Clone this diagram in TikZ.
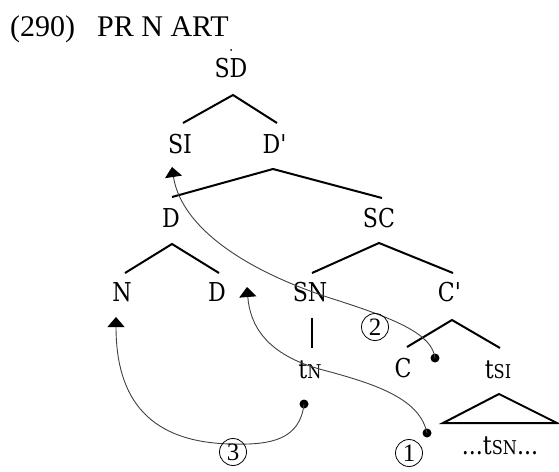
\documentclass[tikz,border=0pt]{standalone}
\usepackage{fontspec}
\setmainfont{DejaVu Serif}[FakeStretch=0.85]
\newfontfamily\titlefont{Liberation Serif}
\usetikzlibrary{arrows.meta}
\newcommand{\smc}[1]{{\fontsize{19}{19}\selectfont #1}}
\begin{document}
\begin{tikzpicture}[x=1pt,y=-1pt,
  lab/.style={font=\fontsize{26}{26}\selectfont, inner sep=0pt, anchor=base},
  ttl/.style={font=\titlefont\fontsize{30}{30}\selectfont, inner sep=0pt, anchor=base west},
  circ/.style={draw, circle, line width=0.8pt, minimum size=27pt, inner sep=0pt,
               font=\titlefont\fontsize{25}{25}\selectfont},
  br/.style={line width=2pt},
  mv/.style={line width=0.9pt, draw=black!75, -{Triangle[width=17pt,length=10pt,color=black]}},
  dotn/.style={circle, fill=black, inner sep=0pt, minimum size=9pt}]
\useasboundingbox (0,0) rectangle (559,471);
% title
\node[ttl] (num) at (10,36) {(290)};
\node[ttl] (ttl) at (97,36) {PR N ART};
% labels
\node[lab] (SD) at (231,77) {SD};
\node[circle, fill=black, inner sep=0pt, minimum size=2pt] (sddot) at (231,50) {};
\node[lab] (SI) at (180,153) {SI};
\node[lab] (Dp) at (275,153) {D\textquotesingle};
\node[lab] (D) at (171,227) {D};
\node[lab] (SC) at (379,227) {SC};
\node[lab] (N) at (122,301) {N};
\node[lab] (D2) at (217,301) {D};
\node[lab] (SN) at (310,301) {SN};
\node[lab] (Cp) at (450,301) {C\textquotesingle};
\node[lab] (tN) at (310,378) {t\smc{N}};
\node[lab] (C) at (403,377) {C};
\node[lab] (tSI) at (498,378) {t\smc{SI}};
\node[lab] (tSN) at (500,454) {...t\smc{SN}...};
% branches
\draw[br] (183,123) -- (233,95) -- (277,123);
\draw[br] (172,197) -- (273,169) -- (382,198);
\draw[br] (125,273) -- (172,244) -- (219,273);
\draw[br] (312,273) -- (379,243) -- (453,273);
\draw[br] (312,318) -- (312,348);
\draw[br] (407,347) -- (452,320) -- (500,348);
\draw[br] (499,394) -- (443,423) -- (557,423) -- cycle;
% dots and arrow ends
\node[dotn] (d1) at (427,433) {};
\node[dotn] (d2) at (435,358) {};
\node[dotn] (d3) at (304,404) {};
\coordinate (a1) at (247,287);
\coordinate (a2) at (172,167);
\coordinate (a3) at (116,317);
% movement arrows
\draw[mv] (d1.center) .. controls (420,400) and (380,385) .. (323,370)
   .. controls (266,355) and (250,325) .. (a1);
\draw[mv] (d2.center) .. controls (432,335) and (400,320) .. (330,298)
   .. controls (230,265) and (180,220) .. (a2);
\draw[mv] (d3.center) .. controls (300,440) and (270,445) .. (233,444)
   .. controls (150,443) and (116,400) .. (a3);
% circled numbers
\node[circ] (c1) at (409,453) {1};
\node[circ] (c2) at (375,327) {2};
\node[circ] (c3) at (233,452) {3};
\end{tikzpicture}
\end{document}
